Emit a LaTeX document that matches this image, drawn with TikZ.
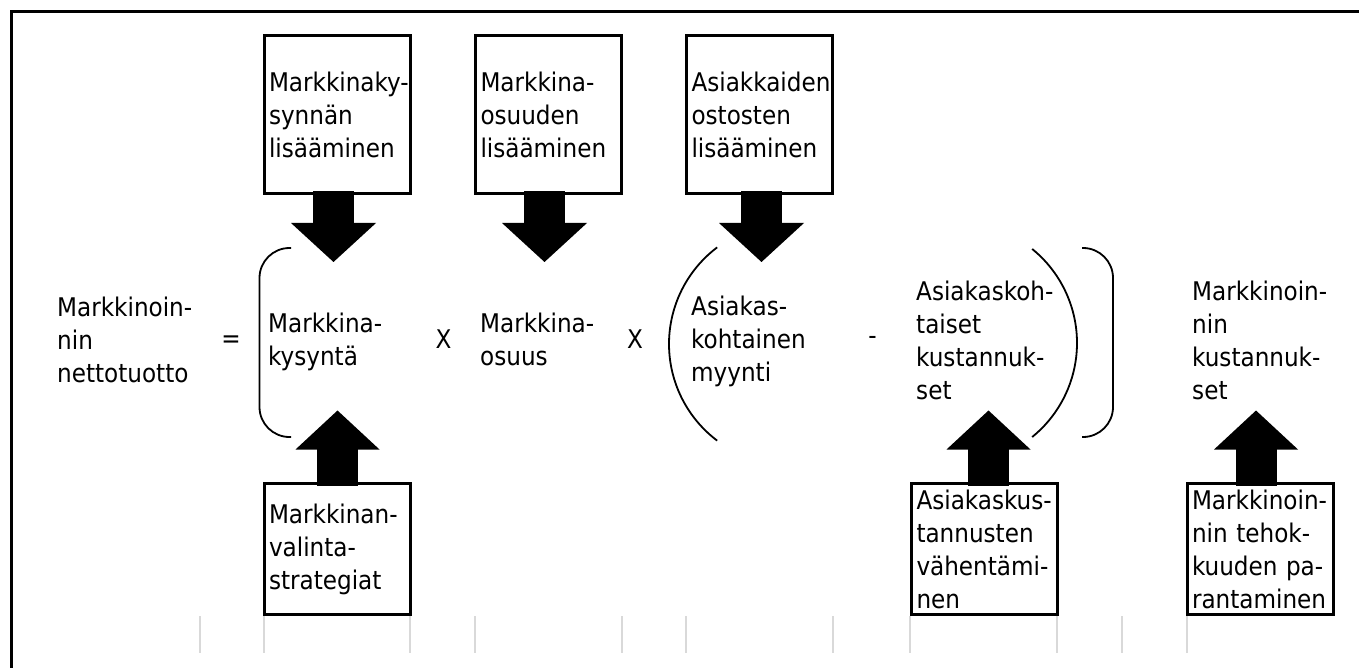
\documentclass[tikz,border=0pt]{standalone}
\usepackage{fontspec}
\setmainfont{DejaVu Sans Condensed}
\usetikzlibrary{calc}
% block arrows hanging below / standing above a box node
\newcommand{\blockdown}[2]{%
  \fill ($(#1.south)+(#2-20.5,-2)$) rectangle ($(#1.south)+(#2+20.5,30)$);
  \fill ($(#1.south)+(#2-42.5,29.5)$) -- ($(#1.south)+(#2+42.5,29.5)$)
    -- ($(#1.south)+(#2,68.5)$) -- cycle;}
\newcommand{\blockup}[2]{%
  \fill ($(#1.north)+(#2-20.5,2)$) rectangle ($(#1.north)+(#2+20.5,-34.5)$);
  \fill ($(#1.north)+(#2-42,-34)$) -- ($(#1.north)+(#2+42,-34)$)
    -- ($(#1.north)+(#2,-73)$) -- cycle;}
\begin{document}
\hyphenpenalty=10000 \exhyphenpenalty=10000
\begin{tikzpicture}[x=1pt,y=-1pt,
  every node/.style={font=\fontsize{25.7}{33}\selectfont},
  box/.style={draw, line width=3pt, outer sep=0pt, inner xsep=5pt,
    inner ysep=0pt, text width=136pt, align=left, minimum width=146pt},
  topbox/.style={box, minimum height=158pt},
  botbox/.style={box, minimum height=131pt},
  term/.style={anchor=base west, inner sep=0pt, text width=200pt, align=left},
  op/.style={inner sep=0pt},
  bracket/.style={line width=1.8pt},
  tick/.style={draw=black!15, line width=2pt}]
\useasboundingbox (0,0) rectangle (1359,668);
\fill[white] (0,0) rectangle (1359,668);

% outer frame (top and left edges)
\draw[line width=3.5pt] (11.5,668) -- (11.5,11.5) -- (1359,11.5);

% boxes
\node[topbox] (t1) at (337,114.5) {Markkinaky-\\synnän\\lisääminen};
\node[topbox] (t2) at (548.5,114.5) {Markkina-\\osuuden\\lisääminen};
\node[topbox] (t3) at (759.5,114.5) {Asiakkaiden\\ostosten\\lisääminen};
\node[botbox] (b1) at (337,549) {Markkinan-\\valinta-\\strategiat};
\node[botbox] (b2) at (984.5,549) {Asiakaskus-\\tannusten\\vähentämi-\\nen};
\node[botbox] (b3) at (1260,549) {Markkinoin-\\nin tehok-\\kuuden pa-\\rantaminen};

% equation terms
\node[term] (tuotto) at (57,316.5) {Markkinoin-\\nin\\nettotuotto};
\node[op] (eq) at (231,342) {=};
\node[term] (kysynta) at (268,332) {Markkina-\\kysyntä};
\node[op, anchor=base] (x1) at (443.5,348) {X};
\node[term] (osuus) at (480,332) {Markkina-\\osuus};
\node[op, anchor=base] (x2) at (635,348) {X};
\node[term] (myynti) at (691,315.5) {Asiakas-\\kohtainen\\myynti};
\node[op] (minus) at (872.5,340) {-};
\node[term] (akust) at (916,300) {Asiakaskoh-\\taiset\\kustannuk-\\set};
\node[term] (mkust) at (1192,300) {Markkinoin-\\nin\\kustannuk-\\set};

% block arrows
\blockdown{t1}{-3.5}
\blockdown{t2}{-4}
\blockdown{t3}{2}
\blockup{b1}{0.5}
\blockup{b2}{4}
\blockup{b3}{-4}

% brackets
\draw[bracket, rounded corners=30pt] (291,248) -- (259.5,248) -- (259.5,437) -- (291,437);
\draw[bracket, rounded corners=30pt] (1082,248) -- (1113,248) -- (1113,437) -- (1082,437);
\draw[bracket] (790,344) ++(233:121) arc[start angle=233, end angle=127, radius=121];
\draw[bracket] (956,343) ++(-51:121) arc[start angle=-51, end angle=51, radius=121];

% faint ticks along the bottom
\foreach \gx in {200,264,410,475,622,686,833,910,1057,1122,1187}
  \draw[tick] (\gx,616) -- (\gx,653);
\end{tikzpicture}
\end{document}
